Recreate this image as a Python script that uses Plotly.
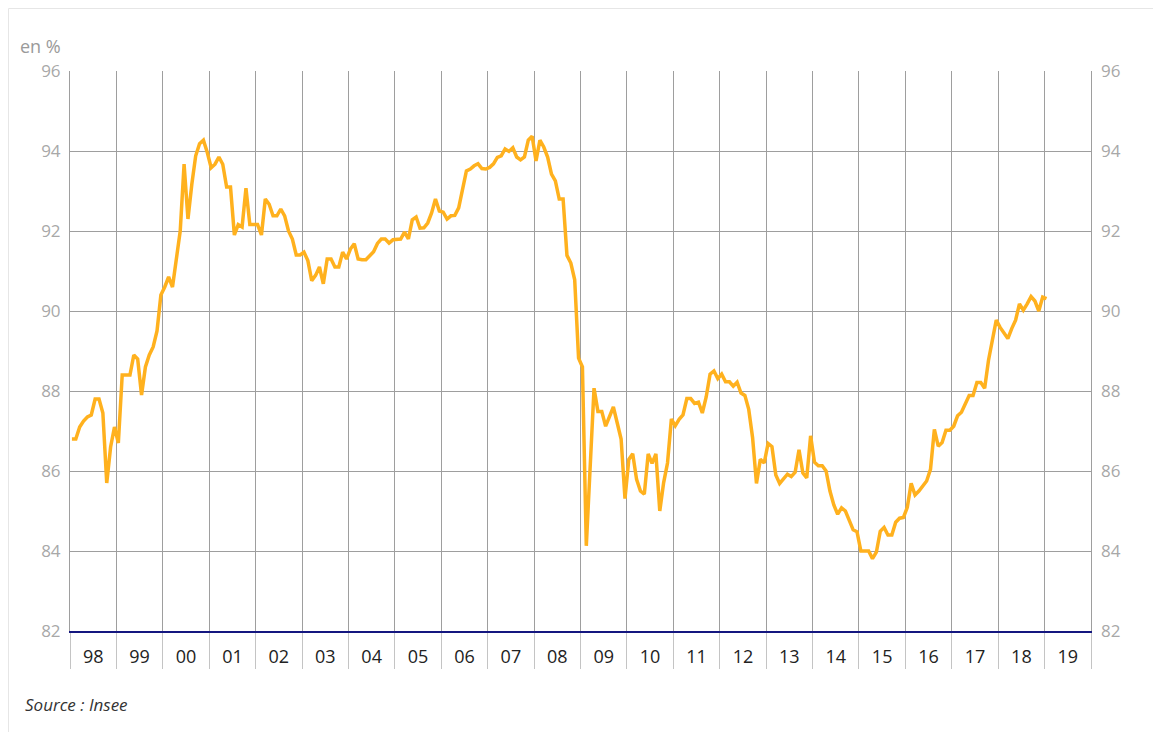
import plotly.graph_objects as go

# Monthly values, Jan 1998 .. Jan 2019 (en %)
y1998 = [86.8, 86.8, 87.1, 87.25, 87.35, 87.4, 87.8, 87.8, 87.45, 85.7, 86.6, 87.1]
y1999 = [86.7, 88.4, 88.4, 88.4, 88.9, 88.8, 87.9, 88.6, 88.9, 89.1, 89.5, 90.4]
y2000 = [90.6, 90.85, 90.6, 91.25, 92.0, 93.67, 92.3, 93.17, 93.88, 94.18, 94.27, 93.96]
y2001 = [93.58, 93.67, 93.85, 93.67, 93.1, 93.1, 91.9, 92.16, 92.1, 93.07, 92.16, 92.16]
y2002 = [92.16, 91.9, 92.8, 92.67, 92.38, 92.38, 92.55, 92.38, 92.0, 91.8, 91.4, 91.4]
y2003 = [91.47, 91.26, 90.76, 90.89, 91.1, 90.68, 91.3, 91.3, 91.1, 91.1, 91.47, 91.3]
y2004 = [91.55, 91.68, 91.3, 91.28, 91.28, 91.38, 91.48, 91.69, 91.8, 91.8, 91.7, 91.78]
y2005 = [91.8, 91.8, 91.97, 91.8, 92.28, 92.35, 92.07, 92.08, 92.2, 92.45, 92.8, 92.5]
y2006 = [92.47, 92.3, 92.38, 92.39, 92.58, 93.0, 93.5, 93.55, 93.63, 93.68, 93.56, 93.55]
y2007 = [93.59, 93.68, 93.84, 93.88, 94.05, 93.99, 94.08, 93.85, 93.78, 93.85, 94.27, 94.37]
y2008 = [93.75, 94.27, 94.1, 93.85, 93.42, 93.25, 92.8, 92.8, 91.39, 91.2, 90.78, 88.82]
y2009 = [88.6, 84.13, 86.0, 88.07, 87.49, 87.49, 87.12, 87.37, 87.6, 87.2, 86.8, 85.31]
y2010 = [86.29, 86.43, 85.79, 85.5, 85.42, 86.43, 86.19, 86.43, 85.0, 85.71, 86.2, 87.3]
y2011 = [87.13, 87.29, 87.4, 87.81, 87.81, 87.69, 87.72, 87.45, 87.85, 88.42, 88.5, 88.31]
y2012 = [88.42, 88.23, 88.23, 88.12, 88.22, 87.95, 87.89, 87.54, 86.83, 85.69, 86.29, 86.2]
y2013 = [86.69, 86.61, 85.9, 85.69, 85.82, 85.92, 85.86, 85.97, 86.53, 85.95, 85.83, 86.88]
y2014 = [86.22, 86.13, 86.13, 86.0, 85.5, 85.15, 84.92, 85.08, 85.0, 84.76, 84.53, 84.48]
y2015 = [84.0, 84.0, 84.0, 83.81, 83.97, 84.49, 84.59, 84.4, 84.4, 84.72, 84.82, 84.84]
y2016 = [85.09, 85.69, 85.4, 85.5, 85.63, 85.75, 86.04, 87.04, 86.62, 86.71, 87.02, 87.02]
y2017 = [87.12, 87.38, 87.47, 87.67, 87.89, 87.89, 88.21, 88.21, 88.07, 88.77, 89.31, 89.77]
y2018 = [89.59, 89.44, 89.31, 89.56, 89.77, 90.18, 90.02, 90.18, 90.36, 90.25, 90.0, 90.35]
y2019 = [90.31]

values = (y1998 + y1999 + y2000 + y2001 + y2002 + y2003 + y2004 + y2005 + y2006 + y2007
          + y2008 + y2009 + y2010 + y2011 + y2012 + y2013 + y2014 + y2015 + y2016
          + y2017 + y2018 + y2019)

start_year = 1998
dates = [start_year + (i + 0.5) / 12 for i in range(len(values))]

year_labels = ["98", "99", "00", "01", "02", "03", "04", "05", "06", "07", "08",
               "09", "10", "11", "12", "13", "14", "15", "16", "17", "18", "19"]
label_pos = [start_year + k + 0.5 for k in range(len(year_labels))]
y_ticks = [82, 84, 86, 88, 90, 92, 94, 96]

FONT = "Open Sans"
GRID = "#9e9e9e"

fig = go.Figure()
fig.add_trace(go.Scatter(x=dates, y=values, mode="lines",
                         line=dict(color="#FFB11E", width=3.5),
                         hoverinfo="skip", showlegend=False))
fig.add_trace(go.Scatter(x=[dates[0]], y=[values[0]], yaxis="y2", mode="markers",
                         marker=dict(opacity=0), hoverinfo="skip", showlegend=False))

fig.update_layout(
    width=1145, height=724,
    margin=dict(l=62, r=62, t=63, b=101),
    paper_bgcolor="white", plot_bgcolor="white",
    font=dict(family=FONT),
    xaxis=dict(
        range=[start_year, start_year + 22],
        tickmode="array", tickvals=label_pos, ticktext=year_labels,
        ticks="", showgrid=False, zeroline=False,
        showline=True, linecolor="#14177f", linewidth=2,
        ticklabelstandoff=8,
        tickfont=dict(family=FONT, size=18, color="#222222"),
        minor=dict(tickmode="linear", tick0=start_year, dtick=1,
                   ticks="outside", ticklen=36, tickcolor="#c4c4c4", tickwidth=1,
                   showgrid=True, gridcolor=GRID, gridwidth=1),
    ),
    yaxis=dict(
        range=[82, 96], tickmode="array", tickvals=y_ticks,
        showgrid=True, gridcolor=GRID, gridwidth=1, zeroline=False,
        showline=True, linecolor=GRID, linewidth=1, mirror=True,
        ticks="", ticklabelstandoff=5,
        tickfont=dict(family=FONT, size=17, color="#a8a8a8"),
    ),
    yaxis2=dict(
        range=[82, 96], tickmode="array", tickvals=y_ticks,
        overlaying="y", side="right", showgrid=False, zeroline=False,
        showline=False, ticks="", ticklabelstandoff=9,
        tickfont=dict(family=FONT, size=17, color="#a8a8a8"),
    ),
    annotations=[
        dict(text="en %", xref="paper", yref="paper", x=-0.0069, y=1.0446,
             xanchor="right", yanchor="middle", showarrow=False,
             font=dict(family=FONT, size=18, color="#9a9a9a")),
        dict(text="<i>Source : Insee</i>", xref="paper", yref="paper", x=-0.046, y=-0.132,
             xanchor="left", yanchor="middle", showarrow=False,
             font=dict(family=FONT, size=17, color="#333333")),
    ],
    shapes=[
        dict(type="line", xref="paper", yref="paper", x0=-0.0602, x1=-0.0602, y0=1.1116, y1=-0.2,
             line=dict(color="#e6e6e6", width=1)),
        dict(type="line", xref="paper", yref="paper", x0=-0.0602, x1=1.07, y0=1.1116, y1=1.1116,
             line=dict(color="#e6e6e6", width=1)),
    ],
)

fig.write_html("out.html")
